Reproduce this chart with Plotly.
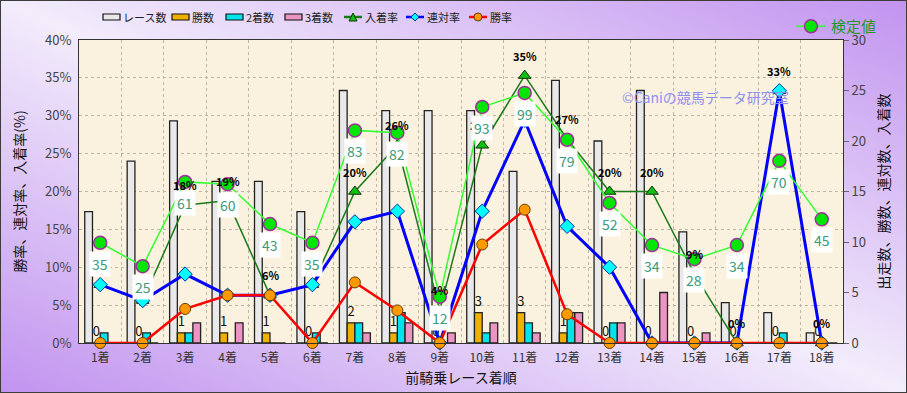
import base64
import struct
import zlib

import numpy as np
import plotly.graph_objects as go

# ---------------- data ----------------
categories = ["1着", "2着", "3着", "4着", "5着", "6着", "7着", "8着", "9着",
              "10着", "11着", "12着", "13着", "14着", "15着", "16着", "17着", "18着"]
races = [13, 18, 22, 16, 16, 13, 25, 23, 23, 23, 17, 26, 20, 25, 11, 4, 3, 1]
wins = [0, 0, 1, 1, 1, 0, 2, 1, 0, 3, 3, 1, 0, 0, 0, 0, 0, 0]
seconds = [1, 1, 1, 0, 0, 1, 2, 3, 0, 1, 2, 3, 2, 0, 0, 0, 1, 0]
thirds = [0, 0, 2, 2, 0, 0, 1, 2, 1, 2, 1, 3, 2, 5, 1, 0, 0, 0]
place_rate = [7.7, 5.6, 18.2, 18.8, 6.3, 7.7, 20.0, 26.1, 4.3, 26.1, 35.3, 26.9,
              20.0, 20.0, 9.1, 0.0, 33.3, 0.0]
rentai_rate = [7.7, 5.6, 9.1, 6.3, 6.3, 7.7, 16.0, 17.4, 0.0, 17.4, 29.4, 15.4,
               10.0, 0.0, 0.0, 0.0, 33.3, 0.0]
win_rate = [0.0, 0.0, 4.5, 6.3, 6.3, 0.0, 8.0, 4.3, 0.0, 13.0, 17.6, 3.8,
            0.0, 0.0, 0.0, 0.0, 0.0, 0.0]
kentei = [35, 25, 61, 60, 43, 35, 83, 82, 12, 93, 99, 79, 52, 34, 28, 34, 70, 45]

pct_ticks = [0, 5, 10, 15, 20, 25, 30, 35, 40]
count_ticks = [0, 5, 10, 15, 20, 25, 30]

# ---------------- layout constants ----------------
W, H = 907, 393
ML, MR, MT, MB = 79, 64, 40, 50
PW, PH = W - ML - MR, H - MT - MB
FONT = "Noto Sans CJK JP"

COL_RACE, COL_WIN, COL_2, COL_3 = "#e9e9e9", "#f0b000", "#00e3ea", "#ec94c4"
COL_PLACE, COL_RENTAI, COL_WINR, COL_KENTEI = "#1a7a1a", "#0000ff", "#ff0000", "#33ff33"


def px_x(px):
    return (px - ML) / PW


def px_y(py):
    return (MT + PH - py) / PH


def png_data_uri(arr):
    h, w, _ = arr.shape
    raw = b"".join(b"\x00" + arr[i].tobytes() for i in range(h))

    def chunk(tag, data):
        c = struct.pack(">I", len(data)) + tag + data
        return c + struct.pack(">I", zlib.crc32(tag + data) & 0xFFFFFFFF)

    png = (b"\x89PNG\r\n\x1a\n"
           + chunk(b"IHDR", struct.pack(">IIBBBBB", w, h, 8, 2, 0, 0, 0))
           + chunk(b"IDAT", zlib.compress(raw, 9))
           + chunk(b"IEND", b""))
    return "data:image/png;base64," + base64.b64encode(png).decode()


# background: reflected diagonal lavender gradient + beige plot area
yy, xx = np.mgrid[0:H, 0:W]
t = np.abs(xx / (W - 1) - yy / (H - 1))[..., None]
light = np.array([243, 237, 252], dtype=float)
purple = np.array([194, 148, 240], dtype=float)
bg = (light + (purple - light) * t).astype(np.uint8)
bg[MT:MT + PH, ML:ML + PW] = np.array([250, 242, 222], dtype=np.uint8)
bg[0, :] = bg[-1, :] = 60
bg[:, 0] = bg[:, -1] = 60
bg_uri = png_data_uri(bg)

fig = go.Figure()

bar_line = dict(color="#222222", width=1.3)
fig.add_trace(go.Bar(x=categories, y=races, name="レース数", yaxis="y", showlegend=False,
                     marker=dict(color=COL_RACE, line=bar_line)))
fig.add_trace(go.Bar(x=categories, y=wins, name="勝数", yaxis="y", showlegend=False,
                     marker=dict(color=COL_WIN, line=bar_line),
                     text=[str(v) for v in wins], textposition="outside",
                     textfont=dict(color="#111111", size=13, family=FONT),
                     constraintext="none", cliponaxis=False))
fig.add_trace(go.Bar(x=categories, y=seconds, name="2着数", yaxis="y", showlegend=False,
                     marker=dict(color=COL_2, line=bar_line)))
fig.add_trace(go.Bar(x=categories, y=thirds, name="3着数", yaxis="y", showlegend=False,
                     marker=dict(color=COL_3, line=bar_line)))

fig.add_trace(go.Scatter(x=categories, y=place_rate, name="入着率", yaxis="y2",
                         showlegend=False, mode="lines+markers", cliponaxis=False,
                         line=dict(color=COL_PLACE, width=1.5),
                         marker=dict(symbol="triangle-up", size=11, color="#10c010",
                                     line=dict(color="#103010", width=1))))
fig.add_trace(go.Scatter(x=categories, y=rentai_rate, name="連対率", yaxis="y2",
                         showlegend=False, mode="lines+markers", cliponaxis=False,
                         line=dict(color=COL_RENTAI, width=3),
                         marker=dict(symbol="diamond", size=11, color="#00ffff",
                                     line=dict(color="#0030a0", width=1))))
fig.add_trace(go.Scatter(x=categories, y=win_rate, name="勝率", yaxis="y2",
                         showlegend=False, mode="lines+markers", cliponaxis=False,
                         line=dict(color=COL_WINR, width=2.5),
                         marker=dict(symbol="circle", size=11, color="#ff9900",
                                     line=dict(color="#6a3a00", width=1))))
fig.add_trace(go.Scatter(x=categories, y=kentei, name="検定値", yaxis="y3",
                         legend="legend2", mode="lines+markers", cliponaxis=False,
                         line=dict(color=COL_KENTEI, width=1.5),
                         marker=dict(symbol="circle", size=13, color="#00e600",
                                     line=dict(color="#a030a0", width=1.5))))

annotations = []
for c, v in zip(categories, place_rate):
    annotations.append(dict(x=c, y=v, xref="x", yref="y2", text=f"<b>{round(v)}%</b>",
                            showarrow=False, yshift=20,
                            font=dict(color="#000000", size=11, family=FONT)))
for c, v in zip(categories, kentei):
    annotations.append(dict(x=c, y=v, xref="x", yref="y3", text=str(v),
                            showarrow=False, yshift=-21, bgcolor="#ffffff",
                            borderpad=2,
                            font=dict(color="#3a9a7a", size=14, family=FONT)))
annotations.append(dict(x=px_x(620), y=px_y(97), xref="paper",
                        yref="paper", xanchor="left", yanchor="middle",
                        text="©Caniの競馬データ研究室", showarrow=False,
                        font=dict(color="#8f8ff2", size=14, family=FONT)))

# ----- compact legend for the 7 main series (symbols + labels) -----
shapes = []
LEG_Y = 17
LEG_FONT = dict(size=11, color="#222222", family=FONT)
bar_items = [("レース数", COL_RACE, 103), ("勝数", COL_WIN, 172),
             ("2着数", COL_2, 226), ("3着数", COL_3, 285)]
for name, col, x0 in bar_items:
    shapes.append(dict(type="rect", xref="paper", yref="paper",
                       x0=px_x(x0), x1=px_x(x0 + 17), y0=px_y(LEG_Y + 3), y1=px_y(LEG_Y - 3),
                       fillcolor=col, line=dict(color="#111111", width=1.2)))
    annotations.append(dict(x=px_x(x0 + 18), y=px_y(LEG_Y), xref="paper", yref="paper",
                            xanchor="left", yanchor="middle", text=name, showarrow=False,
                            font=LEG_FONT))

line_items = [("入着率", COL_PLACE, 344, "tri", "#10c010", "#103010"),
              ("連対率", COL_RENTAI, 406, "dia", "#00ffff", "#0030a0"),
              ("勝率", COL_WINR, 469, "circ", "#ff9900", "#6a3a00")]
for name, col, x0, sym, fill, edge in line_items:
    shapes.append(dict(type="line", xref="paper", yref="paper",
                       x0=px_x(x0), x1=px_x(x0 + 18), y0=px_y(LEG_Y), y1=px_y(LEG_Y),
                       line=dict(color=col, width=2.5)))
    cx = x0 + 9
    if sym == "tri":
        path = (f"M {px_x(cx - 4)} {px_y(LEG_Y + 4)} L {px_x(cx + 4)} {px_y(LEG_Y + 4)} "
                f"L {px_x(cx)} {px_y(LEG_Y - 4)} Z")
        shapes.append(dict(type="path", xref="paper", yref="paper", path=path,
                           fillcolor=fill, line=dict(color=edge, width=1)))
    elif sym == "dia":
        path = (f"M {px_x(cx - 4)} {px_y(LEG_Y)} L {px_x(cx)} {px_y(LEG_Y - 4)} "
                f"L {px_x(cx + 4)} {px_y(LEG_Y)} L {px_x(cx)} {px_y(LEG_Y + 4)} Z")
        shapes.append(dict(type="path", xref="paper", yref="paper", path=path,
                           fillcolor=fill, line=dict(color=edge, width=1)))
    else:
        shapes.append(dict(type="circle", xref="paper", yref="paper",
                           x0=px_x(cx - 4), x1=px_x(cx + 4),
                           y0=px_y(LEG_Y + 4), y1=px_y(LEG_Y - 4),
                           fillcolor=fill, line=dict(color=edge, width=1)))
    annotations.append(dict(x=px_x(x0 + 19), y=px_y(LEG_Y), xref="paper", yref="paper",
                            xanchor="left", yanchor="middle", text=name, showarrow=False,
                            font=LEG_FONT))

grid = dict(showgrid=True, gridcolor="#bdb6aa", griddash="dot", gridwidth=1)

fig.update_layout(
    width=W, height=H,
    margin=dict(l=ML, r=MR, t=MT, b=MB, autoexpand=False),
    paper_bgcolor="rgba(0,0,0,0)", plot_bgcolor="rgba(0,0,0,0)",
    font=dict(family=FONT, size=12, color="#333333"),
    barmode="group", bargap=0.27, bargroupgap=0.0,
    images=[dict(source=bg_uri, xref="paper", yref="paper",
                 x=-ML / PW, y=1 + MT / PH, sizex=W / PW, sizey=H / PH,
                 xanchor="left", yanchor="top", sizing="stretch", layer="below")],
    xaxis=dict(type="category", range=[-0.5, len(categories) - 0.5],
               tickson="boundaries", ticks="", **grid, ticklabelstandoff=4,
               showline=True, linecolor="#333333", linewidth=1, mirror=True,
               tickfont=dict(size=12, color="#333333"),
               title=dict(text="前騎乗レース着順", standoff=8,
                          font=dict(size=14, color="#111111"))),
    yaxis=dict(side="right", range=[0, 30], tickvals=count_ticks, showgrid=False,
               ticks="outside", ticklen=5, tickcolor="#666666",
               showline=True, linecolor="#333333", linewidth=1,
               tickfont=dict(size=13, color="#444444"), zeroline=False,
               title=dict(text="出走数、勝数、連対数、入着数", standoff=14,
                          font=dict(size=14, color="#111111"))),
    yaxis2=dict(overlaying="y", side="left", range=[0, 40], tickvals=pct_ticks,
                ticktext=[f"{v}%" for v in pct_ticks], **grid, zeroline=False,
                showline=True, linecolor="#333333", linewidth=1, ticks="",
                ticklabelstandoff=4,
                tickfont=dict(size=13, color="#444444"),
                title=dict(text="勝率、連対率、入着率(%)", standoff=16,
                           font=dict(size=14, color="#111111"))),
    yaxis3=dict(overlaying="y", range=[-7.8, 121.6], visible=False),
    legend2=dict(orientation="h", x=px_x(791), xanchor="left",
                 y=px_y(10), yanchor="top", bgcolor="rgba(0,0,0,0)",
                 itemwidth=30, font=dict(size=15, color="#229922")),
    annotations=annotations,
    shapes=shapes,
    showlegend=True,
)

fig.write_html("out.html", config={"displayModeBar": False},
               post_script="document.body.style.margin='0';")
